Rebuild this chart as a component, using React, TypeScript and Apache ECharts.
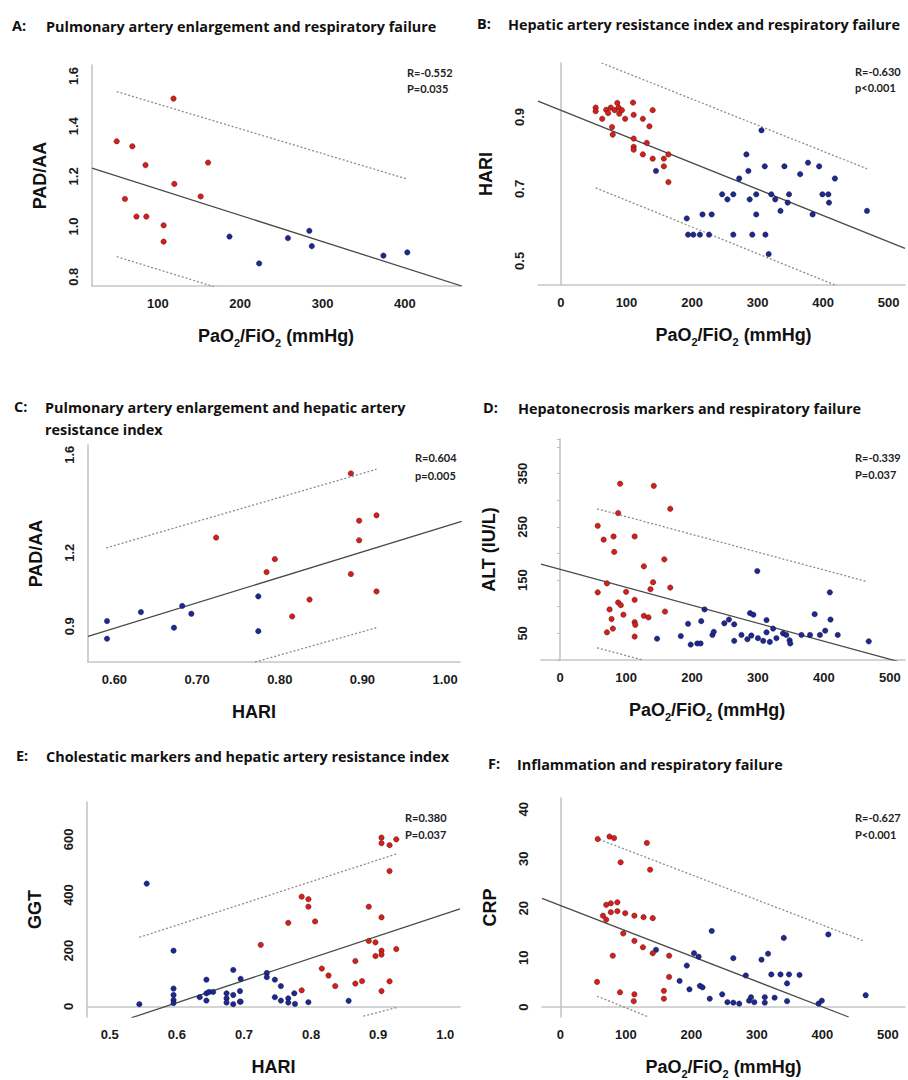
import React, { useEffect, useRef } from 'react';
import * as echarts from 'echarts';

// ---------- Panel A: PAD/AA vs PaO2/FiO2 ----------
const redA = [[50,1.34],[69,1.32],[119,1.51],[85,1.245],[161,1.255],[60,1.11],[120,1.17],[152,1.12],[74,1.04],[86,1.04],[107,1.005],[107,0.94]];
const blueA = [[187,0.96],[223,0.853],[258,0.954],[284,0.983],[287,0.922],[374,0.884],[403,0.897]];
const fitA = [[20,1.233],[470,0.762]];
const upperA = [[50,1.538],[403,1.189]];
const lowerA = [[50,0.88],[200,0.728]];

// ---------- Panel B: HARI vs PaO2/FiO2 ----------
const redB = [[53,0.926],[53,0.916],[63,0.895],[69,0.92],[72,0.911],[76,0.926],[78,0.872],[79,0.851],[82,0.919],[86,0.939],[88,0.926],[89,0.909],[93,0.919],[98,0.895],[110,0.94],[111,0.906],[111,0.84],[111,0.817],[111,0.809],[125,0.895],[125,0.796],[131,0.828],[135,0.874],[140,0.919],[140,0.784],[157,0.784],[157,0.763],[164,0.796],[164,0.719]];
const blueB = [[145,0.75],[192,0.618],[194,0.573],[202,0.573],[212,0.573],[216,0.629],[230,0.629],[226,0.573],[246,0.685],[254,0.671],[263,0.685],[263,0.573],[272,0.729],[283,0.796],[286,0.75],[288,0.671],[292,0.573],[298,0.685],[298,0.629],[306,0.863],[311,0.763],[312,0.573],[317,0.519],[321,0.685],[327,0.671],[335,0.639],[341,0.763],[346,0.662],[348,0.685],[365,0.741],[377,0.773],[384,0.629],[394,0.763],[399,0.685],[408,0.685],[409,0.662],[418,0.729],[467,0.639]];
const fitB = [[-35,0.944],[525,0.535]];
const upperB = [[62,1.05],[467,0.756]];
const lowerB = [[53,0.703],[422,0.43]];

// ---------- Panel C: PAD/AA vs HARI ----------
const blueC = [[0.591,0.921],[0.591,0.849],[0.632,0.958],[0.672,0.894],[0.682,0.983],[0.693,0.951],[0.774,1.022],[0.774,0.88]];
const redC = [[0.723,1.262],[0.784,1.121],[0.794,1.174],[0.815,0.94],[0.836,1.009],[0.886,1.524],[0.886,1.113],[0.896,1.331],[0.896,1.251],[0.917,1.353],[0.917,1.042]];
const fitC = [[0.568,0.859],[1.02,1.328]];
const upperC = [[0.59,1.22],[0.917,1.541]];
const lowerC = [[0.77,0.754],[0.917,0.894]];

// ---------- Panel D: ALT vs PaO2/FiO2 ----------
const redD = [[91,331],[142,327],[167,284],[88,276],[57,252],[66,226],[81,232],[113,232],[82,203],[158,189],[127,176],[71,144],[141,146],[137,133],[167,136],[57,127],[100,128],[113,113],[88,108],[92,103],[75,95],[159,91],[78,77],[96,85],[127,83],[134,80],[113,71],[114,66],[80,59],[71,52],[113,44]];
const blueD = [[147,40],[183,45],[194,68],[198,29],[208,31],[213,31],[214,73],[219,95],[231,47],[233,53],[249,69],[256,76],[264,67],[264,36],[275,47],[284,39],[288,88],[293,85],[290,46],[299,167],[300,41],[308,36],[313,75],[313,52],[318,34],[323,59],[328,41],[338,50],[343,47],[348,37],[349,31],[366,47],[379,47],[386,86],[394,47],[402,55],[409,127],[410,76],[421,47],[468,35]];
const fitD = [[-29,180],[525,-7]];
const upperD = [[56,284],[466,147]];
const lowerD = [[56,23],[125,0]];

// ---------- Panel E: GGT vs HARI ----------
const blueE = [[0.544,8],[0.555,441],[0.595,200],[0.595,64],[0.595,41],[0.595,23],[0.595,12],[0.634,33],[0.644,96],[0.644,47],[0.644,21],[0.648,52],[0.654,52],[0.674,47],[0.674,29],[0.674,14],[0.684,131],[0.684,41],[0.684,8],[0.694,55],[0.694,17],[0.695,99],[0.695,17],[0.734,120],[0.734,105],[0.746,96],[0.746,33],[0.755,73],[0.755,21],[0.766,29],[0.766,14],[0.775,47],[0.776,9],[0.796,15],[0.856,20]];
const redE = [[0.725,221],[0.766,300],[0.786,394],[0.786,58],[0.796,385],[0.796,358],[0.806,305],[0.816,136],[0.826,111],[0.836,73],[0.866,163],[0.866,82],[0.876,91],[0.886,358],[0.886,235],[0.896,230],[0.896,181],[0.905,606],[0.905,586],[0.905,320],[0.905,200],[0.905,186],[0.905,55],[0.917,579],[0.917,486],[0.917,90],[0.927,600],[0.927,206]];
const fitE = [[0.532,-41],[1.022,350]];
const upperE = [[0.544,248],[0.928,548]];
const lowerE = [[0.878,-35],[0.928,-3.5]];

// ---------- Panel F: CRP vs PaO2/FiO2 ----------
const redF = [[57,34],[75,34.5],[82,34.2],[132,33.2],[92,29.3],[137,27.8],[70,20.7],[77,21],[87,21.2],[65,18.5],[70,17.7],[77,19.2],[87,19.4],[99,19],[113,18.5],[127,18.2],[141,18],[96,14.9],[113,13.4],[126,12.1],[141,10.9],[80,10.4],[166,10.4],[166,6.1],[56,5.1],[158,3.3],[158,1.7],[91,3],[113,2.6],[112,1.2]];
const blueF = [[146,11.6],[193,8.4],[182,5.3],[197,3.6],[204,10.9],[211,10.2],[213,4.3],[217,4],[228,1.7],[231,15.4],[247,2.6],[255,1],[264,9.9],[264,0.9],[273,0.7],[283,6.4],[288,1.3],[291,2],[296,1],[307,9.6],[312,2],[312,0.9],[317,10.8],[322,6.6],[327,1.9],[336,6.6],[341,14],[346,4.8],[346,1.2],[349,6.6],[365,6.5],[394,0.7],[399,1.3],[409,14.7],[466,2.4]];
const fitF = [[-28,22],[440,-2]];
const upperF = [[54,34.2],[463,13.4]];
const lowerF = [[56,2.2],[135,-2]];

// ---------- Texts ----------
const panelLetters = ['A:', 'B:', 'C:', 'D:', 'E:', 'F:'];
const panelTitles = [
  'Pulmonary artery enlargement and respiratory failure',
  'Hepatic artery resistance index and respiratory failure',
  'Pulmonary artery enlargement and hepatic artery\nresistance index',
  'Hepatonecrosis markers and respiratory failure',
  'Cholestatic markers and hepatic artery resistance index',
  'Inflammation and respiratory failure',
];
const statR = ['R=-0.552', 'R=-0.630', 'R=0.604', 'R=-0.339', 'R=0.380', 'R=-0.627'];
const statP = ['P=0.035', 'p<0.001', 'p=0.005', 'P=0.037', 'P=0.037', 'P<0.001'];
const xNames = ['PaO{s|2}/FiO{s|2} (mmHg)', 'PaO{s|2}/FiO{s|2} (mmHg)', 'HARI', 'PaO{s|2}/FiO{s|2} (mmHg)', 'HARI', 'PaO{s|2}/FiO{s|2} (mmHg)'];
const yNames = ['PAD/AA', 'HARI', 'PAD/AA', 'ALT (IU/L)', 'GGT', 'CRP'];
const cLabels = [0.9, 1.2, 1.6];

// ---------- layout ----------
const grids = [
  { left: 92, top: 65, width: 368, height: 221 },
  { left: 538, top: 63, width: 370, height: 222 },
  { left: 88, top: 445, width: 372, height: 217 },
  { left: 541, top: 439, width: 367, height: 221 },
  { left: 87, top: 802, width: 373, height: 221 },
  { left: 542, top: 798, width: 366, height: 224 },
];
const xRanges = [[20, 467], [-35, 525], [0.568, 1.018], [-29, 523], [0.466, 1.022], [-28, 526]];
const yRanges = [[0.763, 1.644], [0.433, 1.05], [0.754, 1.64], [0, 415], [-38, 734], [-2, 42.3]];
const titlePos = [[12, 25, 46], [477, 23, 508], [14, 406, 45], [483, 407, 518], [16, 755, 46], [488, 763, 517]];
const statPos = [[407, 72, 88], [855, 71, 87], [415, 457, 475], [855, 457, 474], [405, 817, 834], [855, 817, 834]];
const xNameShift = [0, 12, -20, -16, 0, 0];

const RED = '#d2201d';
const BLUE = '#1b2a93';
const isMult = (v: number, s: number) => Math.abs(v / s - Math.round(v / s)) < 1e-6;

const xFormatters = [
  (v: number) => (isMult(v, 100) ? String(Math.round(v)) : ''),
  (v: number) => (isMult(v, 100) ? String(Math.round(v)) : ''),
  (v: number) => (isMult(v, 0.1) ? v.toFixed(2) : ''),
  (v: number) => (isMult(v, 100) ? String(Math.round(v)) : ''),
  (v: number) => (isMult(v, 0.1) ? v.toFixed(1) : ''),
  (v: number) => (isMult(v, 100) ? String(Math.round(v)) : ''),
];
const yFormatters = [
  (v: number) => (isMult(v, 0.2) ? v.toFixed(1) : ''),
  (v: number) => (isMult(v, 0.1) && Math.round(v * 10) % 2 === 1 ? v.toFixed(1) : ''),
  (v: number) => (cLabels.some((c) => Math.abs(c - v) < 1e-6) ? v.toFixed(1) : ''),
  (v: number) => (isMult(v, 50) && Math.round(v) % 100 === 50 ? String(Math.round(v)) : ''),
  (v: number) => (isMult(v, 200) ? String(Math.round(v)) : ''),
  (v: number) => (isMult(v, 10) ? String(Math.round(v)) : ''),
];
const xSplit = [5, 5, 4, 5, 5, 5];
const ySplit = [4, 6, 9, 8, 4, 4];

const AXIS_FONT = "'Liberation Sans', Arial, sans-serif";
const TITLE_FONT = "'Open Sans', 'Noto Sans', sans-serif";
const STAT_FONT = "Lato, 'Noto Sans', sans-serif";

export default function App() {
  const ref = useRef<HTMLDivElement>(null);
  useEffect(() => {
    document.body.style.margin = '0';
    if (!ref.current) return;
    const chart = echarts.init(ref.current, null, { renderer: 'svg' });

    const axisLine = { show: true, lineStyle: { color: '#c6c6c6', width: 1.6 } };
    const nameStyle = (shift: number) => ({
      fontSize: 18,
      fontWeight: 'bold',
      color: '#111',
      fontFamily: AXIS_FONT,
      lineHeight: 24,
      padding: shift >= 0 ? [0, 0, 0, shift * 2] : [0, -shift * 2, 0, 0],
      rich: { s: { fontSize: 11, fontWeight: 'bold', color: '#111', fontFamily: AXIS_FONT, lineHeight: 12, verticalAlign: 'bottom' } },
    });
    const labelStyle = { fontSize: 13, fontWeight: 'bold', color: '#1a1a1a', fontFamily: AXIS_FONT };

    const xAxis = grids.map((_, i) => ({
      type: 'value',
      gridIndex: i,
      min: xRanges[i][0],
      max: xRanges[i][1],
      splitNumber: xSplit[i],
      name: xNames[i],
      nameLocation: 'middle',
      nameGap: 38,
      nameTextStyle: nameStyle(xNameShift[i]),
      axisLine,
      axisTick: { show: false },
      splitLine: { show: false },
      axisLabel: { ...labelStyle, margin: 11, formatter: xFormatters[i] },
    }));
    const yAxis = grids.map((_, i) => ({
      type: 'value',
      gridIndex: i,
      min: yRanges[i][0],
      max: yRanges[i][1],
      splitNumber: ySplit[i],
      name: yNames[i],
      nameLocation: 'middle',
      nameGap: 40,
      nameRotate: 90,
      nameTextStyle: nameStyle(0),
      axisLine,
      axisTick: i === 3 ? { show: true, interval: 1, length: 3, lineStyle: { color: '#bbb' } } : { show: false },
      splitLine: { show: false },
      axisLabel: { ...labelStyle, rotate: 90, margin: 12, formatter: yFormatters[i] },
    }));

    const scat = (i: number, data: number[][], color: string) => ({
      type: 'scatter', xAxisIndex: i, yAxisIndex: i, data, symbolSize: 5.5, silent: true, z: 5,
      itemStyle: { color, borderColor: 'rgba(30,0,0,0.55)', borderWidth: 0.6, opacity: 1 },
    });
    const line = (i: number, data: number[][], dotted: boolean) => ({
      type: 'line', xAxisIndex: i, yAxisIndex: i, data, symbol: 'none', silent: true, clip: true, z: 2,
      lineStyle: dotted ? { color: '#8c8c8c', width: 1.3, type: [2, 2] } : { color: '#4a4a4a', width: 1.3 },
    });

    const reds = [redA, redB, redC, redD, redE, redF];
    const blues = [blueA, blueB, blueC, blueD, blueE, blueF];
    const fits = [fitA, fitB, fitC, fitD, fitE, fitF];
    const uppers = [upperA, upperB, upperC, upperD, upperE, upperF];
    const lowers = [lowerA, lowerB, lowerC, lowerD, lowerE, lowerF];

    const series: any[] = [];
    for (let i = 0; i < 6; i++) {
      series.push(line(i, fits[i], false));
      series.push(line(i, uppers[i], true));
      series.push(line(i, lowers[i], true));
      series.push(scat(i, blues[i], BLUE));
      series.push(scat(i, reds[i], RED));
    }

    const graphic: any[] = [];
    for (let i = 0; i < 6; i++) {
      const [lx, ly, tx] = titlePos[i];
      graphic.push({ type: 'text', x: lx, y: ly, style: { text: panelLetters[i], fontSize: 14.5, fontWeight: 'bold', fontFamily: TITLE_FONT, fill: '#111', verticalAlign: 'middle' } });
      graphic.push({ type: 'text', x: tx, y: ly - 10, style: { text: panelTitles[i], fontSize: 14.4, fontWeight: 'bold', fontFamily: TITLE_FONT, fill: '#111', verticalAlign: 'top', lineHeight: 22 } });
      const [sx, ry, py] = statPos[i];
      graphic.push({ type: 'text', x: sx, y: ry, style: { text: statR[i], fontSize: 11, fontWeight: 'bold', fontFamily: STAT_FONT, fill: '#222', verticalAlign: 'middle' } });
      graphic.push({ type: 'text', x: sx, y: py, style: { text: statP[i], fontSize: 11, fontWeight: 'bold', fontFamily: STAT_FONT, fill: '#222', verticalAlign: 'middle' } });
    }

    chart.setOption({
      animation: false,
      backgroundColor: '#ffffff',
      grid: grids,
      xAxis,
      yAxis,
      series,
      graphic,
    });
    return () => chart.dispose();
  }, []);
  return <div ref={ref} style={{ width: 908, height: 1080 }} />;
}
